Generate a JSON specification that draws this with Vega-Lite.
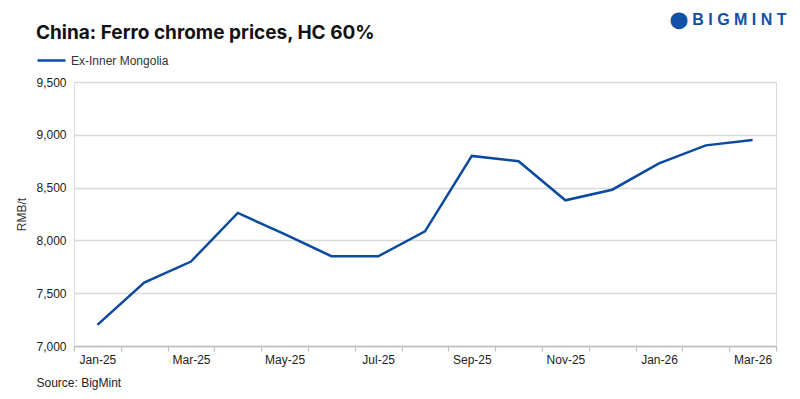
{
  "$schema": "https://vega.github.io/schema/vega-lite/v6.json",
  "width": 800,
  "height": 399,
  "autosize": {"type": "fit", "contains": "padding"},
  "padding": {"left": 15, "right": 23, "top": 11, "bottom": 11},
  "background": "white",
  "title": {
    "text": "China: Ferro chrome prices, HC 60%",
    "anchor": "start",
    "frame": "bounds",
    "font": "Inter",
    "fontSize": 19,
    "fontWeight": "bold",
    "color": "#111111",
    "dx": 20,
    "offset": -32
  },
  "data": {
    "values": [
      {"month": "Jan-25", "price": 7200, "series": "Ex-Inner Mongolia"},
      {"month": "Feb-25", "price": 7600, "series": "Ex-Inner Mongolia"},
      {"month": "Mar-25", "price": 7800, "series": "Ex-Inner Mongolia"},
      {"month": "Apr-25", "price": 8260, "series": "Ex-Inner Mongolia"},
      {"month": "May-25", "price": 8060, "series": "Ex-Inner Mongolia"},
      {"month": "Jun-25", "price": 7850, "series": "Ex-Inner Mongolia"},
      {"month": "Jul-25", "price": 7850, "series": "Ex-Inner Mongolia"},
      {"month": "Aug-25", "price": 8085, "series": "Ex-Inner Mongolia"},
      {"month": "Sep-25", "price": 8800, "series": "Ex-Inner Mongolia"},
      {"month": "Oct-25", "price": 8750, "series": "Ex-Inner Mongolia"},
      {"month": "Nov-25", "price": 8380, "series": "Ex-Inner Mongolia"},
      {"month": "Dec-25", "price": 8480, "series": "Ex-Inner Mongolia"},
      {"month": "Jan-26", "price": 8730, "series": "Ex-Inner Mongolia"},
      {"month": "Feb-26", "price": 8900, "series": "Ex-Inner Mongolia"},
      {"month": "Mar-26", "price": 8950, "series": "Ex-Inner Mongolia"}
    ]
  },
  "layer": [
    {
      "mark": {"type": "line", "strokeWidth": 2.5},
      "encoding": {
        "x": {
          "field": "month",
          "type": "ordinal",
          "sort": null,
          "bandPosition": 0.5,
          "scale": {"type": "band", "paddingInner": 0, "paddingOuter": 0},
          "axis": {
            "orient": "bottom",
            "labelAngle": 0,
            "labelExpr": "indexof(['Jan-25','Mar-25','May-25','Jul-25','Sep-25','Nov-25','Jan-26','Mar-26'], datum.value) >= 0 ? datum.value : ''",
            "tickBand": "extent",
            "tickSize": 5,
            "tickColor": "#bfbfbf",
            "tickWidth": 1.2,
            "domainColor": "#bfbfbf",
            "domainWidth": 1.5,
            "labelPadding": 3,
            "labelFont": "Liberation Sans",
            "labelFontSize": 12,
            "labelColor": "#222222",
            "grid": false,
            "title": "Source: BigMint",
            "titleFont": "Liberation Sans",
            "titleFontSize": 12,
            "titleFontWeight": "normal",
            "titleColor": "#222222",
            "titleAnchor": "start",
            "titleAlign": "left",
            "titleBaseline": "middle",
            "titleX": -38,
            "titleY": 36
          }
        },
        "y": {
          "field": "price",
          "type": "quantitative",
          "scale": {"domain": [7000, 9500], "nice": false, "zero": false},
          "axis": {
            "values": [7000, 7500, 8000, 8500, 9000, 9500],
            "format": ",.0f",
            "domain": false,
            "ticks": false,
            "grid": true,
            "gridColor": "#d9d9d9",
            "gridWidth": 1.5,
            "labelPadding": 8,
            "labelFont": "Liberation Sans",
            "labelFontSize": 12,
            "labelColor": "#222222",
            "title": "RMB/t",
            "titleFont": "Liberation Sans",
            "titleFontSize": 12,
            "titleFontWeight": "normal",
            "titleColor": "#333333",
            "titlePadding": 7
          }
        },
        "color": {
          "field": "series",
          "type": "nominal",
          "scale": {"range": ["#0b4a9f"]},
          "legend": {
            "orient": "none",
            "legendX": -38,
            "legendY": -37,
            "title": null,
            "symbolType": "stroke",
            "symbolSize": 784,
            "symbolStrokeWidth": 2.5,
            "labelFont": "Liberation Sans",
            "labelFontSize": 12,
            "labelColor": "#333333",
            "labelOffset": 4
          }
        }
      }
    },
    {
      "mark": {"type": "line", "opacity": 0},
      "encoding": {
        "x": {
          "field": "month",
          "type": "ordinal",
          "sort": null,
          "bandPosition": 0.5,
          "scale": {"type": "band", "paddingInner": 0, "paddingOuter": 0},
          "axis": {
            "orient": "top",
            "labels": false,
            "ticks": false,
            "domain": false,
            "grid": false,
            "title": "⬤  B I G M I N T",
            "titleFont": "Liberation Sans",
            "titleFontSize": 16,
            "titleFontWeight": "bold",
            "titleColor": "#1150a6",
            "titleAlign": "right",
            "titleBaseline": "middle",
            "titleX": 712,
            "titleY": -63
          }
        },
        "y": {"field": "price", "type": "quantitative"}
      }
    }
  ],
  "resolve": {"scale": {"x": "independent"}}
}
